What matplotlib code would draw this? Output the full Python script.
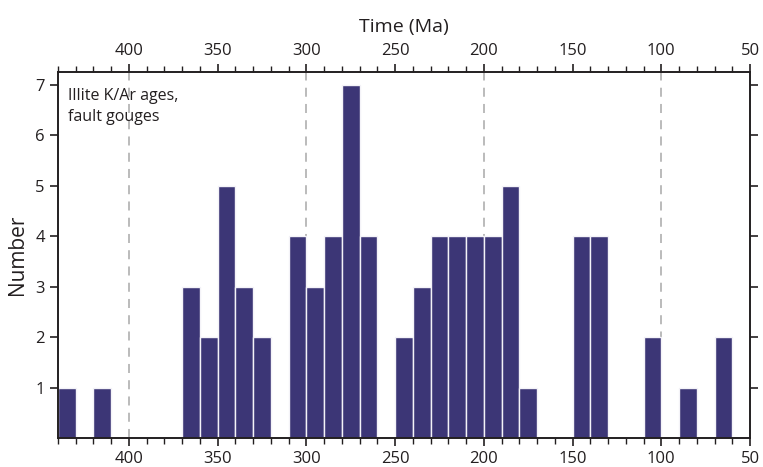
import numpy as np
import matplotlib.pyplot as plt
from matplotlib.ticker import MultipleLocator

plt.rcParams['font.family'] = ['Open Sans', 'DejaVu Sans']

# bin edges (older edge of each 10 Ma bin) and counts
bin_old = [440, 420, 370, 360, 350, 340, 330, 310, 300, 290, 280, 270,
           250, 240, 230, 220, 210, 200, 190, 180, 150, 140, 110, 90, 70]
counts = [1, 1, 3, 2, 5, 3, 2, 4, 3, 4, 7, 4,
          2, 3, 4, 4, 4, 4, 5, 1, 4, 4, 2, 1, 2]
grid_ages = [400, 300, 200, 100]

bar_color = '#3c3676'

fig = plt.figure(figsize=(7.63, 4.67), dpi=100)
ax = fig.add_axes([0.076, 0.062, 0.907, 0.784])

for g in grid_ages:
    ax.axvline(g, color='#b5b5b5', linestyle=(0, (5, 4)), linewidth=1.3, zorder=0)

ax.bar(np.array(bin_old) - 10, counts, width=10, align='edge',
       color=bar_color, edgecolor='#f4f3f8', linewidth=1, zorder=2)

ax.set_xlim(440, 50)
ax.set_ylim(0, 7.26)

ax.xaxis.set_major_locator(MultipleLocator(50))
ax.xaxis.set_minor_locator(MultipleLocator(10))
ax.set_yticks(range(1, 8))

ax.tick_params(axis='x', which='both', top=True, bottom=True,
               labeltop=True, labelbottom=True, direction='out',
               labelsize=12, colors='#231f20')
ax.tick_params(axis='x', which='major', length=6, width=1.2)
ax.tick_params(axis='x', which='minor', length=4, width=1)
ax.tick_params(axis='y', which='major', left=True, right=True,
               direction='out', length=6, width=1.2, labelsize=12,
               colors='#231f20')

for s in ax.spines.values():
    s.set_linewidth(1.4)
    s.set_color('#231f20')

ax.xaxis.set_label_position('top')
ax.set_xlabel('Time (Ma)', fontsize=14, labelpad=8, color='#231f20')
ax.set_ylabel('Number', fontsize=15, labelpad=5, color='#231f20')

ax.text(0.014, 0.955, 'Illite K/Ar ages,\nfault gouges', transform=ax.transAxes,
        ha='left', va='top', fontsize=11.5, color='#231f20', linespacing=1.4)

fig.savefig('out.png', dpi=100)
